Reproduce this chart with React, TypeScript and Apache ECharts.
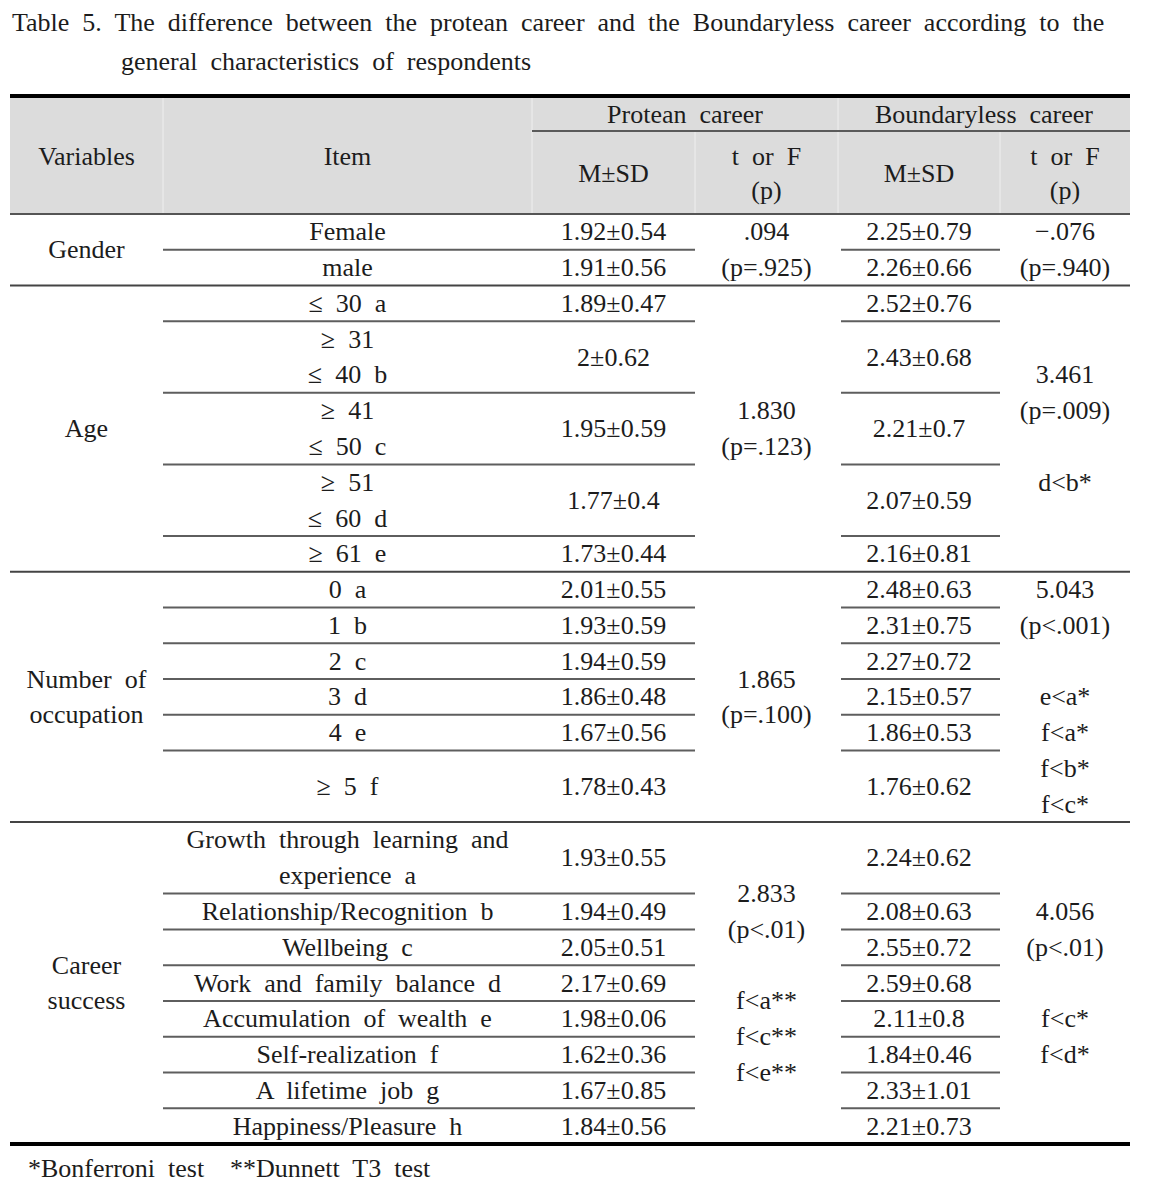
import React, { useEffect, useRef } from "react";
import * as echarts from "echarts";

const titleLines = [
  "Table 5. The difference between the protean career and the Boundaryless career according to the",
  "general characteristics of respondents",
];
const headerGroups = ["Protean career", "Boundaryless career"];
const headerCols = ["Variables", "Item", "M±SD", "t or F\n(p)", "M±SD", "t or F\n(p)"];

const variables = ["Gender", "Age", "Number of\noccupation", "Career\nsuccess"];
const items = [
  ["Female", "male"],
  ["≤ 30 a", "≥ 31\n≤ 40 b", "≥ 41\n≤ 50 c", "≥ 51\n≤ 60 d", "≥ 61 e"],
  ["0 a", "1 b", "2 c", "3 d", "4 e", "≥ 5 f"],
  [
    "Growth through learning and\nexperience a",
    "Relationship/Recognition b",
    "Wellbeing c",
    "Work and family balance d",
    "Accumulation of wealth e",
    "Self-realization f",
    "A lifetime job g",
    "Happiness/Pleasure h",
  ],
];
const proteanMSD = [
  ["1.92±0.54", "1.91±0.56"],
  ["1.89±0.47", "2±0.62", "1.95±0.59", "1.77±0.4", "1.73±0.44"],
  ["2.01±0.55", "1.93±0.59", "1.94±0.59", "1.86±0.48", "1.67±0.56", "1.78±0.43"],
  ["1.93±0.55", "1.94±0.49", "2.05±0.51", "2.17±0.69", "1.98±0.06", "1.62±0.36", "1.67±0.85", "1.84±0.56"],
];
const proteanT = [
  ".094\n(p=.925)",
  "1.830\n(p=.123)",
  "1.865\n(p=.100)",
  "2.833\n(p<.01)\n\nf<a**\nf<c**\nf<e**",
];
const boundaryMSD = [
  ["2.25±0.79", "2.26±0.66"],
  ["2.52±0.76", "2.43±0.68", "2.21±0.7", "2.07±0.59", "2.16±0.81"],
  ["2.48±0.63", "2.31±0.75", "2.27±0.72", "2.15±0.57", "1.86±0.53", "1.76±0.62"],
  ["2.24±0.62", "2.08±0.63", "2.55±0.72", "2.59±0.68", "2.11±0.8", "1.84±0.46", "2.33±1.01", "2.21±0.73"],
];
const boundaryT = [
  "−.076\n(p=.940)",
  "3.461\n(p=.009)\n\nd<b*",
  "5.043\n(p<.001)\n\ne<a*\nf<a*\nf<b*\nf<c*",
  "4.056\n(p<.01)\n\nf<c*\nf<d*",
];
// number of text lines each row occupies
const rowSpans = [
  [1, 1],
  [1, 2, 2, 2, 1],
  [1, 1, 1, 1, 1, 2],
  [2, 1, 1, 1, 1, 1, 1, 1],
];
const footnotes = ["*Bonferroni test", "**Dunnett T3 test"];

const W = 1152;
const H = 1189;
const COLS = [10, 163, 532, 695, 838, 1000, 1130];
const HEAD_TOP = 98;
const HEAD_MID = 131;
const HEAD_BOTTOM = 214;
const BODY_BOTTOM = 1144;
const FONT = '"Liberation Serif", "DejaVu Serif", serif';
const FS = 26;
const INK = "#1c1c1c";

// the reference typesets words with wide gaps
const wide = (s: string) => s.replace(/ /g, "  ");

function txt(text: string, x: number, y: number, align = "center", lh = 35.5, fs = FS) {
  return {
    type: "text",
    x,
    y,
    silent: true,
    style: {
      text: wide(text),
      fill: INK,
      fontSize: fs,
      fontFamily: FONT,
      align,
      verticalAlign: "middle",
      textAlign: align,
      textVerticalAlign: "middle",
      lineHeight: lh,
    },
  };
}
function ln(x1: number, y1: number, x2: number, y2: number, stroke: string, lw: number) {
  return { type: "line", silent: true, shape: { x1, y1, x2, y2 }, style: { stroke, lineWidth: lw } };
}

export default function App() {
  const ref = useRef<HTMLDivElement>(null);
  useEffect(() => {
    if (!ref.current) return;
    const chart = echarts.init(ref.current, null, { renderer: "svg" });
    const els: any[] = [];
    const center = (i: number) => (COLS[i] + COLS[i + 1]) / 2;

    // title
    els.push(txt(titleLines[0], 12, 22, "left"));
    els.push(txt(titleLines[1], 121, 61, "left"));

    // header
    els.push({ type: "rect", silent: true, shape: { x: COLS[0], y: HEAD_TOP, width: COLS[6] - COLS[0], height: HEAD_BOTTOM - HEAD_TOP }, style: { fill: "#dcdcdc" } });
    const sep = "#efefef";
    els.push(ln(COLS[1], HEAD_TOP, COLS[1], HEAD_BOTTOM, sep, 1));
    els.push(ln(COLS[2], HEAD_TOP, COLS[2], HEAD_BOTTOM, sep, 1));
    els.push(ln(COLS[4], HEAD_TOP, COLS[4], HEAD_BOTTOM, sep, 1));
    els.push(ln(COLS[3], HEAD_MID, COLS[3], HEAD_BOTTOM, sep, 1));
    els.push(ln(COLS[5], HEAD_MID, COLS[5], HEAD_BOTTOM, sep, 1));
    els.push(ln(COLS[2], HEAD_MID, COLS[6], HEAD_MID, "#5a5a5a", 2));
    els.push(ln(COLS[0], HEAD_BOTTOM, COLS[6], HEAD_BOTTOM, "#555", 2));
    els.push(ln(COLS[0], 96, COLS[6], 96, "#000", 4));
    els.push(ln(COLS[0], BODY_BOTTOM, COLS[6], BODY_BOTTOM, "#000", 4));

    els.push(txt(headerGroups[0], (COLS[2] + COLS[4]) / 2, (HEAD_TOP + HEAD_MID) / 2));
    els.push(txt(headerGroups[1], (COLS[4] + COLS[6]) / 2, (HEAD_TOP + HEAD_MID) / 2));
    els.push(txt(headerCols[0], center(0), (HEAD_TOP + HEAD_BOTTOM) / 2));
    els.push(txt(headerCols[1], center(1), (HEAD_TOP + HEAD_BOTTOM) / 2));
    for (let c = 2; c < 6; c++) {
      els.push(txt(headerCols[c], center(c), (HEAD_MID + HEAD_BOTTOM) / 2 + 1, "center", 34));
    }

    // body
    const totalUnits = rowSpans.reduce((s, g) => s + g.reduce((a, b) => a + b, 0), 0);
    const unit = (BODY_BOTTOM - HEAD_BOTTOM) / totalUnits;
    let y = HEAD_BOTTOM;
    for (let g = 0; g < variables.length; g++) {
      const gStart = y;
      const spans = rowSpans[g];
      for (let r = 0; r < spans.length; r++) {
        const h = spans[r] * unit;
        const cy = y + h / 2;
        els.push(txt(items[g][r], center(1), cy, "center", unit));
        els.push(txt(proteanMSD[g][r], center(2), cy));
        els.push(txt(boundaryMSD[g][r], center(4), cy));
        y += h;
        if (r < spans.length - 1) {
          els.push(ln(COLS[1], y, COLS[3], y, "#5e5e5e", 2));
          els.push(ln(COLS[4] + 3, y, COLS[5], y, "#5e5e5e", 2));
        }
      }
      const gMid = (gStart + y) / 2;
      els.push(txt(variables[g], center(0), gMid, "center", unit));
      els.push(txt(proteanT[g], center(3), gMid, "center", unit));
      els.push(txt(boundaryT[g], center(5), gMid, "center", unit));
      if (g < variables.length - 1) {
        els.push(ln(COLS[0], y, COLS[6], y, "#444", 2));
      }
    }

    els.push(txt(footnotes[0], 28, 1168, "left"));
    els.push(txt(footnotes[1], 230, 1168, "left"));

    chart.setOption({
      animation: false,
      backgroundColor: "#ffffff",
      graphic: { elements: els },
    });
    return () => chart.dispose();
  }, []);
  return (
    <div
      ref={ref}
      style={{ position: "absolute", left: 0, top: 0, width: W, height: H, background: "#fff" }}
    />
  );
}
